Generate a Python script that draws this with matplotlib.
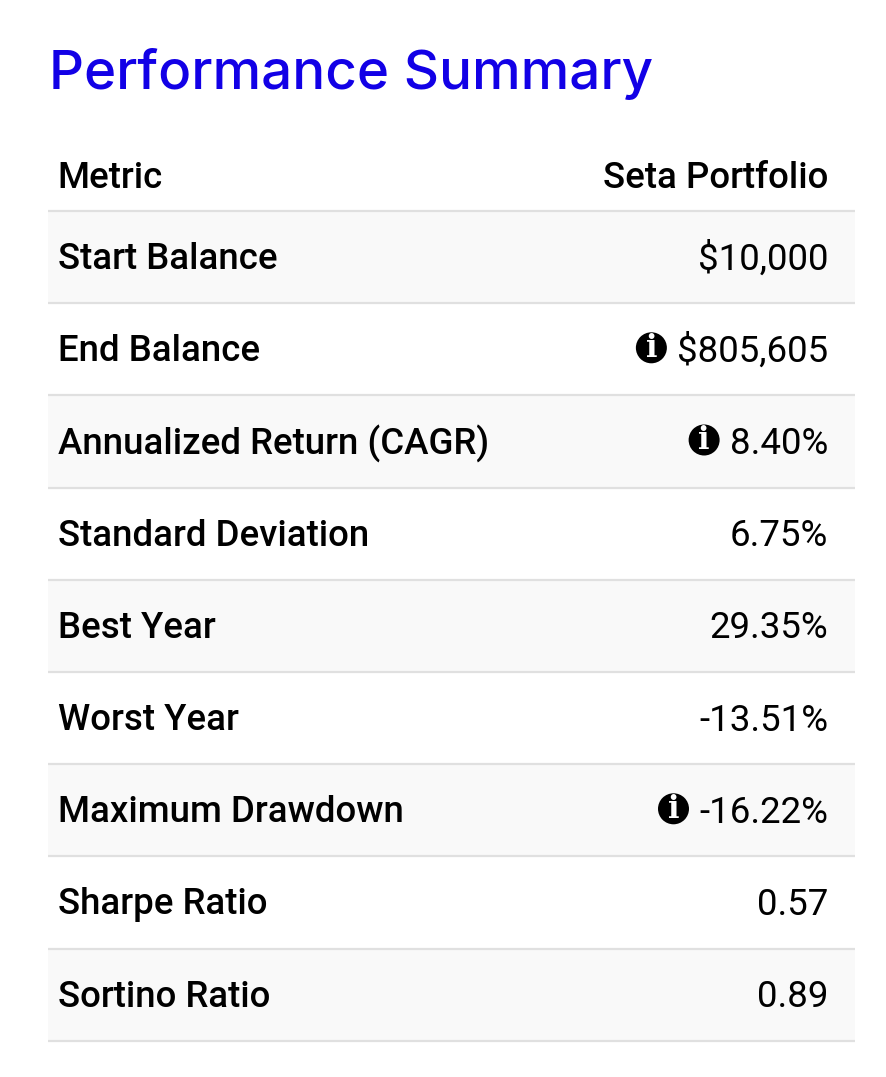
import matplotlib
matplotlib.use("Agg")
import matplotlib.pyplot as plt
from matplotlib.patches import Circle, Rectangle

title = "Performance Summary"
header = ["Metric", "Seta Portfolio"]
metrics = ["Start Balance", "End Balance", "Annualized Return (CAGR)", "Standard Deviation",
           "Best Year", "Worst Year", "Maximum Drawdown", "Sharpe Ratio", "Sortino Ratio"]
values = ["$10,000", "$805,605", "8.40%", "6.75%", "29.35%", "-13.51%", "-16.22%", "0.57", "0.89"]
has_info = [False, True, True, False, False, False, True, False, False]

W, H = 886, 1077
LEFT, RIGHT = 48, 855
TOP = 211
ROW_H = 92.2
FS = 26.4

fig = plt.figure(figsize=(W / 100, H / 100), dpi=100)
ax = fig.add_axes([0, 0, 1, 1])
ax.set_xlim(0, W)
ax.set_ylim(H, 0)
ax.axis("off")

ax.text(49, 68, title, color="#1200e6", fontsize=39.4, family="Inter", weight=500,
        va="center_baseline", ha="left")

ax.text(57, 174, header[0], fontsize=FS, family="Roboto", weight=500, va="center_baseline")
ax.text(828.5, 174, header[1], fontsize=FS, family="Roboto", weight=500, va="center_baseline", ha="right")
ax.plot([LEFT, RIGHT], [TOP, TOP], color="#e0e0e0", lw=1.6, solid_capstyle="butt")

renderer = fig.canvas.get_renderer()
for i, (m, v) in enumerate(zip(metrics, values)):
    y0 = TOP + i * ROW_H
    y1 = y0 + ROW_H
    cy = y0 + ROW_H / 2
    if i % 2 == 0:
        ax.add_patch(Rectangle((LEFT, y0), RIGHT - LEFT, ROW_H, color="#f9f9f9", lw=0, zorder=0))
    ax.plot([LEFT, RIGHT], [y1, y1], color="#e0e0e0", lw=1.6, solid_capstyle="butt")
    ax.text(58, cy - 1.5, m, fontsize=FS, family="Roboto", weight=500, va="center_baseline")
    t = ax.text(828.5, cy - 1.5, v, fontsize=FS, family="Roboto", va="center_baseline", ha="right")
    if has_info[i]:
        x_left = t.get_window_extent(renderer).x0
        ix = x_left - 26
        ax.add_patch(Circle((ix, cy - 1.5), 15.5, color="black", lw=0))
        ax.text(ix, cy - 1, "i", color="white", fontsize=22, family="DejaVu Serif", weight="bold",
                ha="center", va="center")

fig.savefig("out.png", dpi=100, facecolor="white")
